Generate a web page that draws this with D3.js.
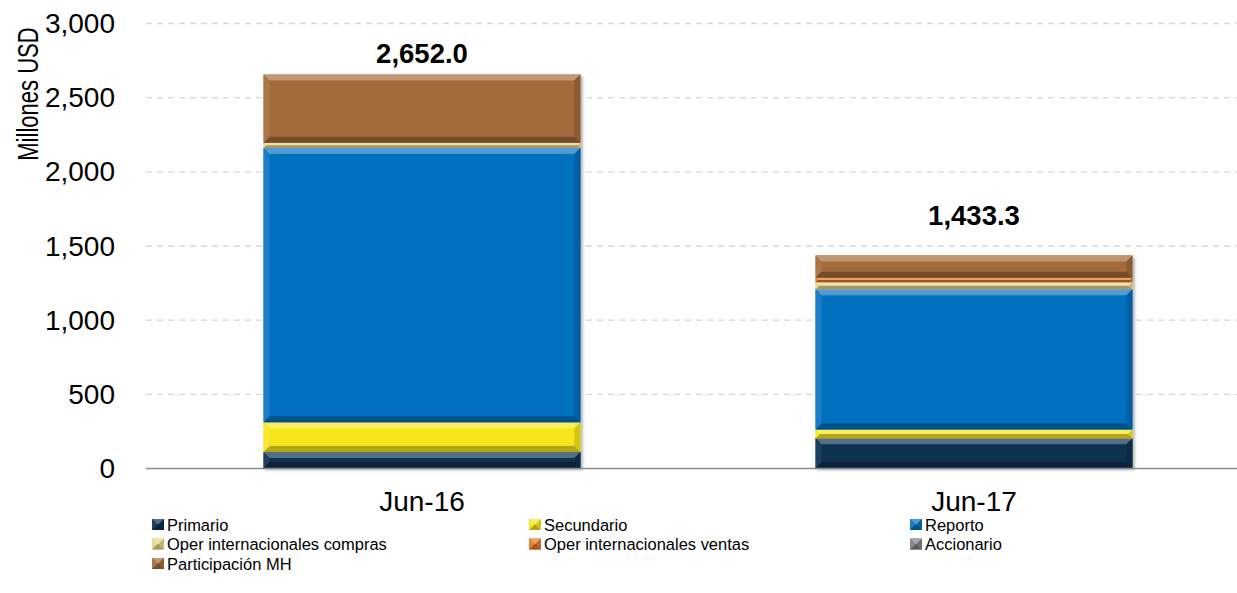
<!DOCTYPE html>
<html>
<head>
<meta charset="utf-8">
<script src="https://cdn.jsdelivr.net/npm/d3@7"></script>
<style>
  body { margin: 0; background: #fff; }
  svg { display: block; font-family: "Liberation Sans", Arial, sans-serif; }
</style>
</head>
<body>
<div class="chart"></div>
<script>
// Data
var categories = ["Jun-16", "Jun-17"];
var seriesNames = ["Primario", "Secundario", "Reporto", "Oper internacionales compras",
    "Oper internacionales ventas", "Accionario", "Participación MH"];
var primario = [108, 200];
var secundario = [200, 60];
var reporto = [1850, 945];
var operCompras = [35, 48];
var operVentas = [0, 30];
var accionario = [0, 0];
var participacionMH = [459, 150.3];
var totals = [2652.0, 1433.3];
var yTicks = [0, 500, 1000, 1500, 2000, 2500, 3000];

var colors = ["#0b3050", "#f7e51c", "#0670bf", "#e6d58c", "#e0782a", "#808080", "#a36b3a"];

// Set up chart
var svgWidth = 1237;
var svgHeight = 593;
var plotLeft = 146;
var plotRight = 1250;
var plotTop = 23;
var plotBottom = 468;

var svg = d3.select(".chart")
    .append("svg")
    .attr("width", svgWidth)
    .attr("height", svgHeight);

var defs = svg.append("defs");
var shadow = defs.append("filter").attr("id", "shadow")
    .attr("x", "-5%").attr("y", "-5%").attr("width", "115%").attr("height", "115%");
shadow.append("feDropShadow")
    .attr("dx", 2).attr("dy", 2).attr("stdDeviation", 1.5)
    .attr("flood-color", "#000").attr("flood-opacity", 0.3);

// build table rows for the stack
var table = categories.map(function (c, i) {
    return {
        cat: c,
        "Primario": primario[i],
        "Secundario": secundario[i],
        "Reporto": reporto[i],
        "Oper internacionales compras": operCompras[i],
        "Oper internacionales ventas": operVentas[i],
        "Accionario": accionario[i],
        "Participación MH": participacionMH[i]
    };
});

var stack = d3.stack().keys(seriesNames);
var layers = stack(table);

var xScale = d3.scaleBand()
    .domain(categories)
    .range([plotLeft, plotRight])
    .paddingInner(0.426)
    .paddingOuter(0.213);

var yScale = d3.scaleLinear().domain([0, 3000]).range([plotBottom, plotTop]);

// gridlines
svg.append("g")
    .selectAll("line")
    .data(yTicks.filter(function (d) { return d > 0; }))
    .enter()
    .append("line")
    .attr("x1", plotLeft)
    .attr("x2", svgWidth)
    .attr("y1", function (d) { return yScale(d) + 0.5; })
    .attr("y2", function (d) { return yScale(d) + 0.5; })
    .attr("stroke", "#d6d6d6")
    .attr("stroke-width", 1.3)
    .attr("stroke-dasharray", "6,5");

// y tick labels
svg.append("g")
    .selectAll("text")
    .data(yTicks)
    .enter()
    .append("text")
    .attr("x", 115)
    .attr("y", function (d) { return yScale(d); })
    .attr("dy", "0.36em")
    .attr("text-anchor", "end")
    .attr("font-size", 28)
    .attr("fill", "#000")
    .text(function (d) { return d3.format(",")(d); });

// y title (condensed look)
svg.append("text")
    .attr("transform", "translate(38,94) rotate(-90) scale(0.76,1)")
    .attr("text-anchor", "middle")
    .attr("font-size", 29)
    .text("Millones USD");

// beveled segment
function bevelSeg(g, x, y, w, h, color) {
    if (h <= 0) return;
    var b = Math.min(6, h / 2, w / 2);
    var light = d3.interpolateRgb(color, "#fff")(0.3);
    var lightSide = d3.interpolateRgb(color, "#fff")(0.08);
    var dark = d3.interpolateRgb(color, "#000")(0.28);
    var darkSide = d3.interpolateRgb(color, "#000")(0.15);
    var pts = function (arr) { return arr.map(function (p) { return p.join(","); }).join(" "); };
    g.append("rect").attr("x", x).attr("y", y).attr("width", w).attr("height", h).attr("fill", color);
    g.append("polygon").attr("points", pts([[x, y], [x + w, y], [x + w - b, y + b], [x + b, y + b]])).attr("fill", light);
    g.append("polygon").attr("points", pts([[x, y + h], [x + w, y + h], [x + w - b, y + h - b], [x + b, y + h - b]])).attr("fill", dark);
    g.append("polygon").attr("points", pts([[x, y], [x + b, y + b], [x + b, y + h - b], [x, y + h]])).attr("fill", lightSide);
    g.append("polygon").attr("points", pts([[x + w, y], [x + w - b, y + b], [x + w - b, y + h - b], [x + w, y + h]])).attr("fill", darkSide);
}

// bars
var bars = svg.append("g");
categories.forEach(function (c, i) {
    var g = bars.append("g").attr("filter", "url(#shadow)");
    layers.forEach(function (layer, k) {
        var d = layer[i];
        var y0 = yScale(d[1]);
        var y1 = yScale(d[0]);
        bevelSeg(g, xScale(c), y0, xScale.bandwidth(), y1 - y0, colors[k]);
    });
});

// baseline
svg.append("line")
    .attr("x1", plotLeft)
    .attr("x2", svgWidth)
    .attr("y1", plotBottom + 0.5)
    .attr("y2", plotBottom + 0.5)
    .attr("stroke", "#8c8c8c")
    .attr("stroke-width", 1.6);

// total labels
var labelGap = [12, 30];
svg.append("g")
    .selectAll("text")
    .data(totals)
    .enter()
    .append("text")
    .attr("x", function (d, i) { return xScale(categories[i]) + xScale.bandwidth() / 2; })
    .attr("y", function (d, i) { return yScale(d) - labelGap[i]; })
    .attr("text-anchor", "middle")
    .attr("font-size", 27.5)
    .attr("font-weight", "bold")
    .text(function (d) { return d3.format(",.1f")(d); });

// category labels
svg.append("g")
    .selectAll("text")
    .data(categories)
    .enter()
    .append("text")
    .attr("x", function (d) { return xScale(d) + xScale.bandwidth() / 2; })
    .attr("y", 511)
    .attr("text-anchor", "middle")
    .attr("font-size", 28)
    .text(function (d) { return d; });

// legend
var legendCols = [152, 529, 910];
var legendRows = [525, 544.5, 564];
var legend = svg.append("g");
seriesNames.forEach(function (name, k) {
    var col = k % 3;
    var row = Math.floor(k / 3);
    var lx = legendCols[col];
    var ly = legendRows[row];
    var lg = legend.append("g");
    bevelSeg(lg, lx, ly - 6, 12, 11, colors[k]);
    lg.append("text")
        .attr("transform", "translate(" + (lx + 15) + "," + ly + ") scale(0.97,1)")
        .attr("dy", "0.35em")
        .attr("font-size", 17)
        .text(name);
});
</script>
</body>
</html>
